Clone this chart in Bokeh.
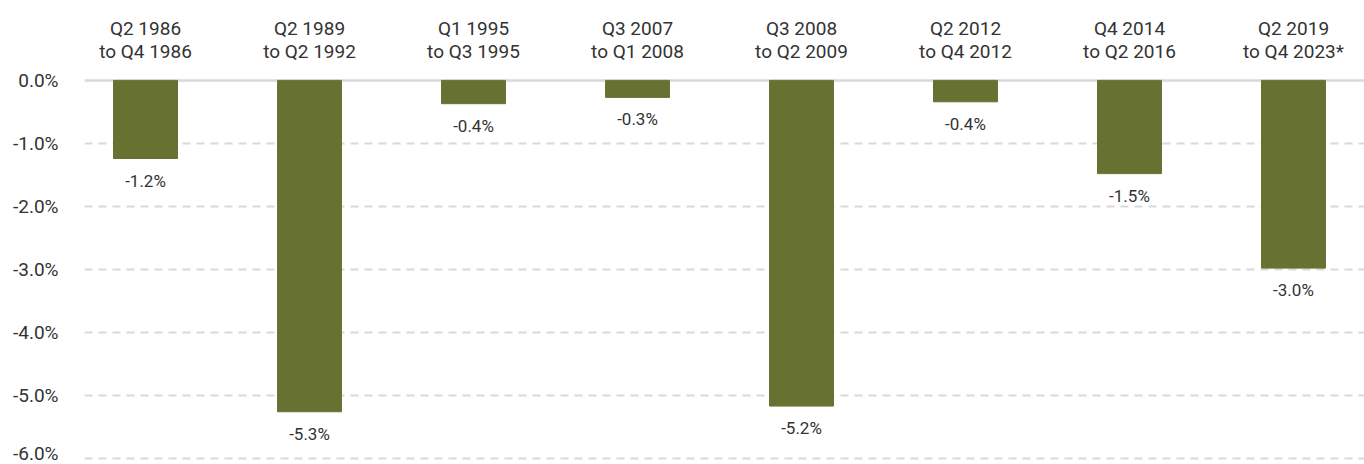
from bokeh.plotting import figure
from bokeh.models import (ColumnDataSource, FixedTicker, Range1d, Span, LabelSet)
from bokeh.core.properties import value
from bokeh.embed import file_html
from bokeh.resources import INLINE

categories = ["Q2 1986\nto Q4 1986", "Q2 1989\nto Q2 1992", "Q1 1995\nto Q3 1995",
              "Q3 2007\nto Q1 2008", "Q3 2008\nto Q2 2009", "Q2 2012\nto Q4 2012",
              "Q4 2014\nto Q2 2016", "Q2 2019\nto Q4 2023*"]
values = [-1.24, -5.26, -0.37, -0.27, -5.17, -0.34, -1.48, -2.98]
value_labels = ["-1.2%", "-5.3%", "-0.4%", "-0.3%", "-5.2%", "-0.4%", "-1.5%", "-3.0%"]
y_ticks = [0, -1, -2, -3, -4, -5, -6]
y_tick_labels = ["0.0%", "-1.0%", "-2.0%", "-3.0%", "-4.0%", "-5.0%", "-6.0%"]

FONT = "Roboto"
TEXT = "#333333"
BAR = "#677232"
GRID = "#d9d9d9"

idx = list(range(len(categories)))
src = ColumnDataSource(dict(x=idx, top=[0] * len(values), bottom=values, lab=value_labels))

p = figure(width=1364, height=464, output_backend="svg", toolbar_location=None,
           x_range=Range1d(-0.372, 7.433), y_range=Range1d(-6.05, 0.03),
           x_axis_location="above", y_axis_location="left",
           min_border_left=84, min_border_right=0, min_border_top=78, min_border_bottom=3)
p.outline_line_color = None
p.background_fill_color = "white"

p.xgrid.grid_line_color = None
p.ygrid.ticker = FixedTicker(ticks=[t for t in y_ticks if t != 0])
p.ygrid.grid_line_color = GRID
p.ygrid.grid_line_width = 2
p.ygrid.grid_line_dash = "8 6"

p.add_layout(Span(location=0, dimension="width", line_color=GRID, line_width=2.5, level="underlay"))

p.vbar(x="x", top="top", bottom="bottom", width=0.39, source=src,
       fill_color=BAR, line_color=BAR, line_width=1)

labels = LabelSet(x="x", y="bottom", text="lab", source=src, y_offset=-22,
                  text_align="center", text_baseline="middle",
                  text_font=value(FONT), text_font_size=value("17px"), text_color=value(TEXT))
p.add_layout(labels)

xa = p.xaxis[0]
xa.ticker = FixedTicker(ticks=idx)
xa.major_label_overrides = {i: c for i, c in zip(idx, categories)}
xa.major_label_text_font = FONT
xa.major_label_text_font_size = "19px"
xa.major_label_text_color = TEXT
xa.major_label_text_line_height = 1.0
xa.major_label_standoff = 10
xa.axis_line_color = None
xa.major_tick_line_color = None
xa.minor_tick_line_color = None

ya = p.yaxis[0]
ya.ticker = FixedTicker(ticks=y_ticks)
ya.major_label_overrides = {t: l for t, l in zip(y_ticks, y_tick_labels)}
ya.major_label_text_font = FONT
ya.major_label_text_font_size = "19px"
ya.major_label_text_color = TEXT
ya.major_label_standoff = 20
ya.axis_line_color = None
ya.major_tick_line_color = None
ya.minor_tick_line_color = None

open("out.html", "w").write(file_html(p, INLINE))
